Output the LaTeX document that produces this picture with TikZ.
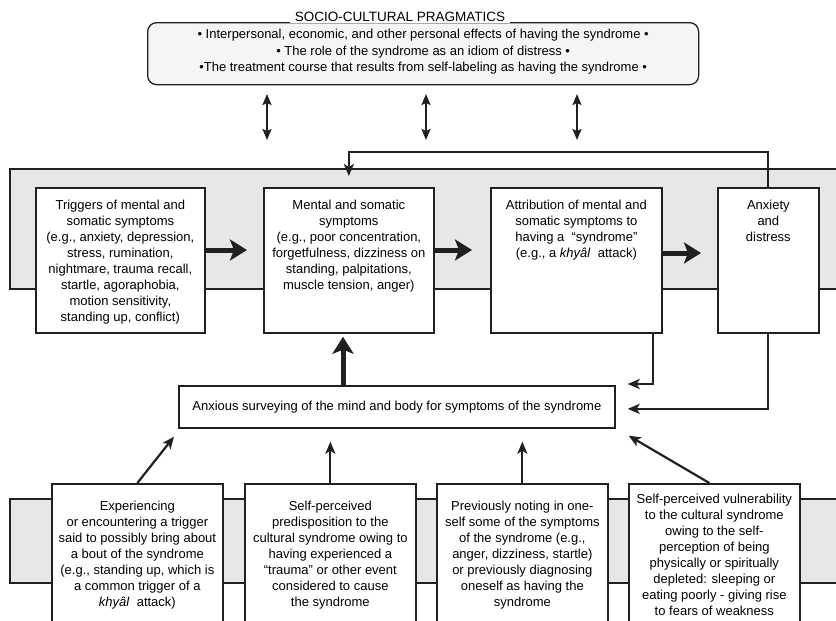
\documentclass[tikz,border=0pt]{standalone}
\usepackage{fontspec}
\setmainfont{Liberation Sans}
\usetikzlibrary{arrows.meta,calc}
\definecolor{band}{RGB}{230,231,232}
\definecolor{panel}{RGB}{244,245,245}
\definecolor{ink}{RGB}{35,31,32}
% top-aligned, centred text block of a given width and height
\newcommand\topblock[3]{\parbox[t][#2][t]{#1}{\centering\rule{0pt}{22pt}#3}}

\begin{document}
\begin{tikzpicture}[x=1pt,y=-1pt,
  font=\fontsize{13}{16}\selectfont,
  bandbox/.style={draw=ink,line width=1.3pt,fill=band},
  stagebox/.style={draw=ink,line width=1.7pt,fill=white,inner sep=0pt,anchor=north west},
  cuebox/.style={draw=ink,line width=1.7pt,fill=white,align=center,inner sep=0pt,
    anchor=north west,minimum width=171pt,minimum height=142pt},
  flow/.style={draw=ink,line width=5pt,-{Stealth[length=17pt,width=21pt,inset=4pt]}},
  link/.style={draw=ink,line width=2.2pt,-{Stealth[length=12pt,width=10pt,inset=3pt]}},
  both/.style={draw=ink,line width=1.8pt,
    {Stealth[length=11pt,width=9pt,inset=2pt]}-{Stealth[length=11pt,width=9pt,inset=2pt]}},
]
\useasboundingbox (0,0) rectangle (836,621);

% ---- socio-cultural pragmatics panel
\node[draw=ink,line width=1.3pt,rounded corners=9pt,fill=panel,anchor=north west,
  minimum width=551pt,minimum height=62pt,inner sep=0pt] (prag) at (147,22) {};
\node[align=center,inner sep=0pt,font=\fontsize{13}{16.5}\selectfont] (pragtext)
  at ($(prag.center)+(0,-2)$)
  {• Interpersonal, economic, and other personal effects of having the syndrome •\\
   • The role of the syndrome as an idiom of distress •\\
   •The treatment course that results from self-labeling as having the syndrome •};
\node[fill=white,inner xsep=5pt,inner ysep=2pt,anchor=base,
  font=\fontsize{13.5}{16}\selectfont] (pragtitle) at (400,21)
  {SOCIO-CULTURAL PRAGMATICS};

% two-way links between the panel and the symptom cycle
\coordinate (u1) at (267,94);  \coordinate (d1) at (267,140);
\coordinate (u2) at (426,94);  \coordinate (d2) at (426,140);
\coordinate (u3) at (577,94);  \coordinate (d3) at (577,140);
\draw[both] (u1) -- (d1);
\draw[both] (u2) -- (d2);
\draw[both] (u3) -- (d3);

% ---- shaded bands
\path[bandbox] (10,169) rectangle (860,289);
\path[bandbox] (10,499) rectangle (860,583);

% ---- symptom cycle
\node[stagebox] (trig) at (35,187) {\topblock{169pt}{145pt}{Triggers of mental and\\
  somatic symptoms\\ (e.g., anxiety, depression,\\ stress, rumination,\\
  nightmare, trauma recall,\\ startle, agoraphobia,\\ motion sensitivity,\\
  standing up, conflict)}};
\node[stagebox] (ment) at (263,187) {\topblock{170pt}{145pt}{Mental and somatic\\
  symptoms\\ (e.g., poor concentration,\\ forgetfulness, dizziness on\\
  standing, palpitations,\\ muscle tension, anger)}};
\node[stagebox] (attr) at (490,187) {\topblock{171pt}{145pt}{Attribution of mental and\\
  somatic symptoms to\\ having a ~“syndrome”\\ (e.g., a \textit{khyâl}~ attack)}};
\node[stagebox] (anx) at (717,187) {\topblock{101pt}{145pt}{Anxiety\\ and\\ distress}};

\draw[flow] (trig.east |- 0,250) -- ([xshift=-16pt]ment.west |- 0,250);
\draw[flow] (ment.east |- 0,250) -- ([xshift=-18pt]attr.west |- 0,250);
\draw[flow] (attr.east |- 0,253) -- ([xshift=-16pt]anx.west |- 0,253);

% feedback from distress back to the symptoms
\coordinate (loopin) at ($(ment.north)+(0,-11)$);
\draw[link] (anx.north) -- (anx.north |- 0,152) -| (loopin);

% ---- anxious surveying
\node[draw=ink,line width=1.7pt,fill=white,anchor=north west,minimum width=436pt,
  minimum height=42pt,inner sep=0pt] (surv) at (178,385)
  {Anxious surveying of the mind and body for symptoms of the syndrome};

\draw[flow] (surv.north -| 343,0) -- ([yshift=-3pt]ment.south -| 343,0);

\coordinate (attrout) at ($(attr.south east)+(-10,0)$);
\coordinate (survin1) at ($(surv.north east)+(12,-1)$);
\coordinate (survin2) at ($(surv.east)+(12,2)$);
\draw[link] (attrout) |- (survin1);
\draw[link] (anx.south) |- (survin2);

% ---- predisposing cues
\node[cuebox] (exp) at (51,483) {Experiencing\\ or encountering a trigger\\
  said to possibly bring about\\ a bout of the syndrome\\ (e.g., standing up, which is\\
  a common trigger of a\\ \textit{khyâl}~ attack)};
\node[cuebox] (pred) at (244,483) {Self-perceived\\ predisposition to the\\
  cultural syndrome owing to\\ having experienced a\\ “trauma” or other event\\
  considered to cause\\ the syndrome};
\node[cuebox] (note) at (436,483) {Previously noting in one-\\ self some of the symptoms\\
  of the syndrome (e.g.,\\ anger, dizziness, startle)\\ or previously diagnosing\\
  oneself as having the\\ syndrome};
\node[cuebox] (vuln) at (628,483) {Self-perceived vulnerability\\ to the cultural syndrome\\
  owing to the self-\\ perception of being\\ physically or spiritually\\
  depleted: sleeping or\\ eating poorly - giving rise\\ to fears of weakness};

\coordinate (expin) at ($(surv.south west)+(-4,8)$);
\coordinate (predin) at ($(surv.south -| pred.north)+(0,13)$);
\coordinate (notein) at ($(surv.south -| note.north)+(0,13)$);
\coordinate (vulnin) at ($(surv.south east)+(13,7)$);
\draw[link] (exp.north) -- (expin);
\draw[link] (pred.north) -- (predin);
\draw[link] (note.north) -- (notein);
\draw[link] ($(vuln.north)+(-5,0)$) -- (vulnin);
\end{tikzpicture}
\end{document}
